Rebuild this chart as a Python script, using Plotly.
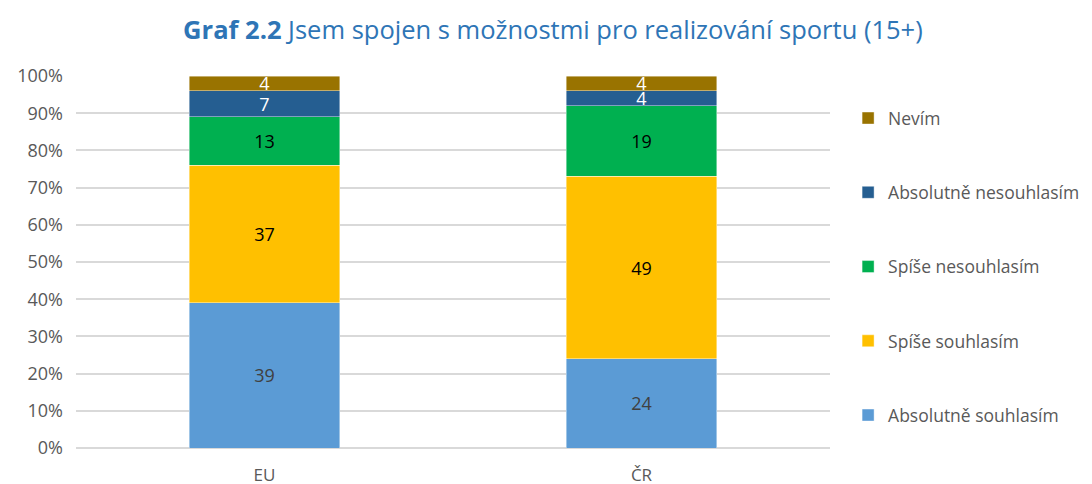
import plotly.graph_objects as go

categories = ["EU", "ČR"]
series_names = ["Absolutně souhlasím", "Spíše souhlasím", "Spíše nesouhlasím",
                "Absolutně nesouhlasím", "Nevím"]
abs_souhlasim = [39, 24]
spise_souhlasim = [37, 49]
spise_nesouhlasim = [13, 19]
abs_nesouhlasim = [7, 4]
nevim = [4, 4]
y_ticks = [0, 10, 20, 30, 40, 50, 60, 70, 80, 90, 100]
y_tick_labels = [f"{v}%" for v in y_ticks]

values = [abs_souhlasim, spise_souhlasim, spise_nesouhlasim, abs_nesouhlasim, nevim]
colors = ["#5B9BD5", "#FFC000", "#00B050", "#255E91", "#997300"]
text_colors = ["#404040", "#000000", "#000000", "#FFFFFF", "#FFFFFF"]

fig = go.Figure()
for i, (name, vals) in enumerate(zip(series_names, values)):
    fig.add_trace(go.Bar(
        x=categories, y=vals, name=name,
        marker=dict(color=colors[i], line=dict(color="rgba(255,255,255,0.6)", width=0.7)),
        text=vals, texttemplate="%{text}", textposition="inside", textangle=0,
        insidetextanchor="middle", constraintext="none",
        textfont=dict(color=text_colors[i], size=18, family="Open Sans"),
        legendgroup=name, legendrank=len(series_names) - i, hoverinfo="skip",
    ))

fig.update_layout(
    barmode="stack",
    bargap=0.6,
    width=1092, height=484,
    margin=dict(l=68, r=270, t=68, b=44, autoexpand=False),
    paper_bgcolor="white", plot_bgcolor="white",
    font=dict(family="Open Sans", color="#595959", size=18),
    uniformtext=dict(minsize=18, mode="show"),
    title=dict(
        text="<b>Graf 2.2</b> Jsem spojen s možnostmi pro realizování sportu (15+)",
        x=0.499, xanchor="center", y=0.9545, yanchor="middle",
        font=dict(family="Open Sans", size=25.5, color="#2E75B6"),
    ),
    legend=dict(
        x=1.024, xanchor="left", y=0.935, yanchor="top",
        traceorder="grouped", tracegroupgap=48.5,
        font=dict(size=17.5, color="#595959"),
        itemclick=False,
    ),
    xaxis=dict(showline=False, ticks="", ticklabelstandoff=15,
               tickfont=dict(size=17, color="#595959")),
    yaxis=dict(range=[0, 100], tickvals=y_ticks, ticktext=y_tick_labels,
               ticks="", ticklabelstandoff=12,
               showgrid=True, gridcolor="#D9D9D9", gridwidth=1.5,
               zeroline=True, zerolinecolor="#D9D9D9", zerolinewidth=1.5,
               tickfont=dict(size=18, color="#595959")),
)

fig.write_html("out.html")
